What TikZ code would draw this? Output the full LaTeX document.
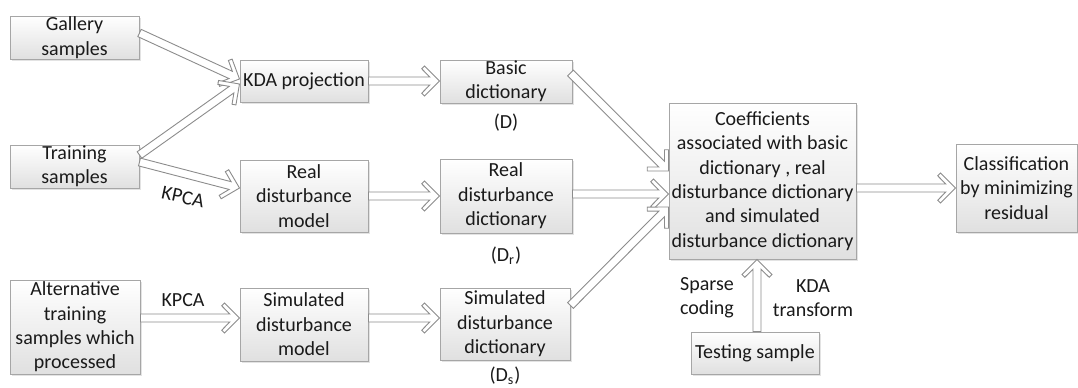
\documentclass[tikz,border=0pt]{standalone}
\usepackage{fontspec}
\setmainfont{Carlito}
\usetikzlibrary{calc,shadows}
\definecolor{boxline}{HTML}{A6A6A6}
\definecolor{arrline}{HTML}{8C8C8C}
\definecolor{boxbot}{HTML}{E0E0E0}
\definecolor{txt}{HTML}{1A1A1A}
\tikzset{
  box/.style={draw=boxline, line width=0.5pt, top color=white, bottom color=boxbot,
    drop shadow={shadow xshift=0.8pt, shadow yshift=-0.8pt, opacity=0.22},
    align=center, inner sep=0pt, text=txt, font=\fontsize{10pt}{12.2pt}\selectfont},
  lbl/.style={align=center, inner sep=0pt, text=txt, font=\fontsize{10pt}{12.2pt}\selectfont},
  barrow/.style={draw=arrline, fill=white, line width=0.45pt, line join=miter,
    to path={let \p1=(\tikztostart), \p2=(\tikztotarget),
      \n1={atan2(\y2-\y1,\x2-\x1)}, \n2={veclen(\x2-\x1,\y2-\y1)} in
      ([shift={(\p1)},rotate=\n1]0pt,2pt)
      -- ([shift={(\p1)},rotate=\n1]\n2-4.85pt,2pt)
      -- ([shift={(\p1)},rotate=\n1]\n2-8.9pt,6.1pt)
      -- ([shift={(\p1)},rotate=\n1]\n2-7.5pt,7.5pt)
      -- (\p2)
      -- ([shift={(\p1)},rotate=\n1]\n2-7.5pt,-7.5pt)
      -- ([shift={(\p1)},rotate=\n1]\n2-8.9pt,-6.1pt)
      -- ([shift={(\p1)},rotate=\n1]\n2-4.85pt,-2pt)
      -- ([shift={(\p1)},rotate=\n1]0pt,-2pt)
      -- cycle}}
}
\begin{document}
\begin{tikzpicture}[x=0.5pt, y=-0.5pt]
\useasboundingbox (0,0) rectangle (1078,387);
% boxes
\node[box, minimum width=64.5pt, minimum height=21.5pt] (gal) at (74.5,37.5) {Gallery\\samples};
\node[box, minimum width=64pt, minimum height=21pt] (kda) at (304,81) {KDA projection};
\node[box, minimum width=64.5pt, minimum height=21.5pt] (tra) at (74.5,166.5) {Training\\samples};
\node[box, minimum width=64pt, minimum height=36pt] (rdm) at (304,196) {Real\\disturbance\\model};
\node[box, minimum width=65pt, minimum height=47pt] (alt) at (75,327) {Alternative\\training\\samples which\\processed};
\node[box, minimum width=64pt, minimum height=36.5pt] (sdm) at (304,324.5) {Simulated\\disturbance\\model};
\node[box, minimum width=66pt, minimum height=21.5pt] (bas) at (506,81.5) {Basic\\dictionary};
\node[box, minimum width=66pt, minimum height=37pt] (rdd) at (506,196) {Real\\disturbance\\dictionary};
\node[box, minimum width=65pt, minimum height=36pt] (sdd) at (505,324) {Simulated\\disturbance\\dictionary};
\node[box, minimum width=93.5pt, minimum height=78pt] (coe) at (762.5,181) {Coefficients\\associated with basic\\dictionary , real\\disturbance dictionary\\and simulated\\disturbance dictionary};
\node[box, minimum width=60.5pt, minimum height=44pt] (cla) at (1016.5,188) {Classification\\by minimizing\\residual};
\node[box, minimum width=64pt, minimum height=21pt] (tst) at (755,353) {Testing sample};
% labels
\node[lbl] (ld) at (506,123) {(D)};
\node[lbl] (ldr) at (506,256) {(D\textsubscript{r})};
\node[lbl] (lds) at (505,375.5) {(D\textsubscript{s})};
\node[lbl, rotate=-12] (kp1) at (183,197) {KPCA};
\node[lbl] (kp2) at (183,300) {KPCA};
\node[lbl] (sc) at (707,298) {Sparse\\coding};
\node[lbl] (kt) at (813,298) {KDA\\transform};
% arrows
\draw[barrow] ($(gal.east)+(0,-4.5)$) to ($(kda.west)+(0,-2)$);
\draw[barrow] ($(tra.east)+(0,-11.5)$) to ($(kda.west)+(0,3)$);
\draw[barrow] ($(tra.east)+(0,-4.5)$) to ($(rdm.west)+(0,-8)$);
\draw[barrow] (kda.east) to (bas.west |- kda.east);
\draw[barrow] (rdm.east) to (rdd.west);
\draw[barrow] ($(alt.east)+(0,-9)$) to ($(sdm.west)+(0,-6.5)$);
\draw[barrow] ($(sdm.east)+(0,-6.5)$) to ($(sdd.west)+(0,-6)$);
\draw[barrow] ($(bas.east)+(-2,-8.5)$) to ($(coe.west)+(0,-10)$);
\draw[barrow] ($(rdd.east)+(0,-2)$) to ($(coe.west)+(0,13)$);
\draw[barrow] ($(sdd.north east)+(0,18)$) to ($(coe.west)+(0,26)$);
\draw[barrow] ($(coe.east)+(0,7)$) to (cla.west);
\draw[barrow] ($(tst.north)+(2,0)$) to ($(coe.south)+(-5.5,0)$);
\end{tikzpicture}
\end{document}
